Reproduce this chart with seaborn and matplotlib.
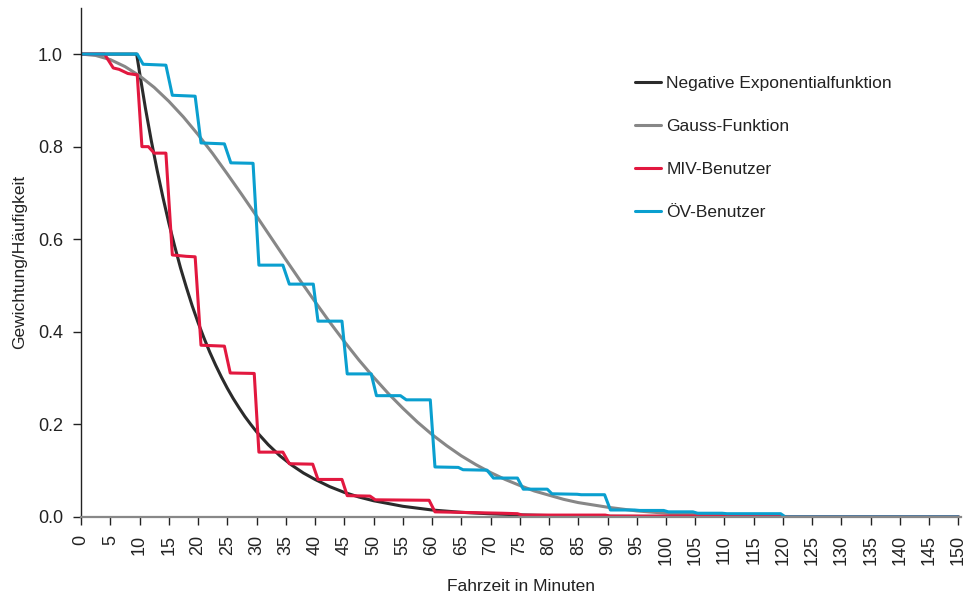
import seaborn as sns
import matplotlib.pyplot as plt

# Fahrzeit (Minuten) und Gewichtung
exp_x = [0, 9.5, 10, 11, 12, 13, 14, 15, 16, 17, 18, 19, 20, 21, 22, 23, 24, 25, 26, 27,
         28, 29, 30, 32, 34, 36, 38, 40, 42.5, 45, 47.5, 50, 55, 60, 65, 70, 75, 80, 90,
         100, 110, 120, 150]
exp_y = [1.0, 1.0, 0.960, 0.883, 0.813, 0.749, 0.690, 0.635, 0.585, 0.538, 0.496, 0.456,
         0.420, 0.387, 0.356, 0.328, 0.302, 0.278, 0.256, 0.236, 0.217, 0.200, 0.184,
         0.156, 0.132, 0.112, 0.095, 0.081, 0.0655, 0.053, 0.043, 0.035, 0.023, 0.015,
         0.010, 0.0067, 0.0045, 0.003, 0.0013, 0.0006, 0.0002, 0.0, 0.0]

gauss_x = [0, 2.5, 5, 7.5, 10, 12.5, 15, 17.5, 20, 22.5, 25, 27.5, 30, 32.5, 35, 37.5,
           40, 42.5, 45, 47.5, 50, 52.5, 55, 57.5, 60, 62.5, 65, 67.5, 70, 72.5, 75,
           77.5, 80, 82.5, 85, 87.5, 90, 95, 100, 105, 110, 115, 120, 130, 150]
gauss_y = [1.0, 0.997, 0.988, 0.973, 0.953, 0.928, 0.898, 0.864, 0.826, 0.785, 0.741,
           0.696, 0.650, 0.603, 0.556, 0.510, 0.465, 0.421, 0.379, 0.339, 0.302, 0.267,
           0.235, 0.205, 0.178, 0.154, 0.132, 0.113, 0.096, 0.081, 0.068, 0.056, 0.047,
           0.038, 0.031, 0.026, 0.021, 0.013, 0.008, 0.005, 0.003, 0.002, 0.001, 0.0, 0.0]

miv_x = [0, 4, 5.5, 6.5, 8, 9.6, 10.4, 11.5, 12.5, 14.5, 15.6, 18, 19.5, 20.5, 24.5,
         25.5, 29.6, 30.4, 34.5, 35.6, 39.6, 40.5, 44.6, 45.5, 49.4, 50.3, 59.5, 60.5,
         72, 74.6, 75.4, 89.6, 90.4, 119.6, 120.4, 150]
miv_y = [1.0, 1.0, 0.97, 0.967, 0.958, 0.955, 0.80, 0.80, 0.786, 0.786, 0.566, 0.563,
         0.562, 0.371, 0.369, 0.311, 0.310, 0.140, 0.140, 0.115, 0.114, 0.081, 0.081,
         0.046, 0.045, 0.037, 0.036, 0.011, 0.008, 0.007, 0.004, 0.004, 0.002, 0.002,
         0.0, 0.0]

oev_x = [0, 9.6, 10.6, 14.5, 15.6, 19.5, 20.5, 24.5, 25.6, 29.4, 30.4, 34.5, 35.6, 39.7,
         40.5, 44.6, 45.5, 49.6, 50.5, 54.6, 55.6, 59.7, 60.5, 64.5, 65.3, 69.4, 70.5,
         74.6, 75.6, 79.7, 80.5, 84.8, 85.5, 89.5, 90.5, 94.6, 95.5, 99.6, 100.4, 104.6,
         105.4, 109.6, 110.4, 119.6, 120.4, 150]
oev_y = [1.0, 1.0, 0.978, 0.976, 0.911, 0.909, 0.808, 0.806, 0.765, 0.764, 0.544, 0.544,
         0.503, 0.503, 0.423, 0.423, 0.309, 0.309, 0.262, 0.262, 0.253, 0.253, 0.108,
         0.107, 0.102, 0.101, 0.084, 0.084, 0.060, 0.060, 0.050, 0.049, 0.048, 0.048,
         0.015, 0.015, 0.014, 0.014, 0.011, 0.011, 0.008, 0.008, 0.007, 0.007, 0.0, 0.0]

series = [
    ("Negative Exponentialfunktion", exp_x, exp_y, "#2b2b2b"),
    ("Gauss-Funktion", gauss_x, gauss_y, "#878787"),
    ("MIV-Benutzer", miv_x, miv_y, "#e2183f"),
    ("ÖV-Benutzer", oev_x, oev_y, "#0a9fcf"),
]

sns.set_style("ticks")
plt.rcParams['font.family'] = ['Liberation Sans', 'DejaVu Sans']
text_col = "#222222"

fig = plt.figure(figsize=(9.77, 5.99), dpi=100)
ax = fig.add_axes([0.083, 0.137, 0.901, 0.850])

for name, xs, ys, col in series:
    sns.lineplot(x=xs, y=ys, ax=ax, color=col, lw=2.2, label=name,
                 estimator=None, sort=False)

ax.set_xlim(0, 150.5)
ax.set_ylim(0, 1.1)
ax.set_xticks(range(0, 151, 5))
ax.set_xticklabels([str(v) for v in range(0, 151, 5)], rotation=90)
ax.set_yticks([0, 0.2, 0.4, 0.6, 0.8, 1.0])
ax.set_yticklabels(["0.0", "0.2", "0.4", "0.6", "0.8", "1.0"])
ax.tick_params(axis='both', labelsize=13, labelcolor=text_col, colors="#222222",
               length=6, width=1, pad=7)
ax.set_xlabel("Fahrzeit in Minuten", fontsize=12.5, color=text_col, labelpad=10)
ax.set_ylabel("Gewichtung/Häufigkeit", fontsize=12.5, color=text_col, labelpad=8)

sns.despine(ax=ax)
ax.spines['left'].set_color("#222222")
ax.spines['left'].set_linewidth(1)
ax.spines['bottom'].set_color("#888888")
ax.spines['bottom'].set_linewidth(1.6)

leg = ax.legend(loc='upper left', bbox_to_anchor=(0.65, 0.874),
                bbox_transform=fig.transFigure, frameon=False, fontsize=12.5,
                handlelength=1.5, handletextpad=0.3, labelspacing=1.62,
                borderpad=0, borderaxespad=0)
for t in leg.get_texts():
    t.set_color(text_col)

fig.savefig("out.png", dpi=100)
